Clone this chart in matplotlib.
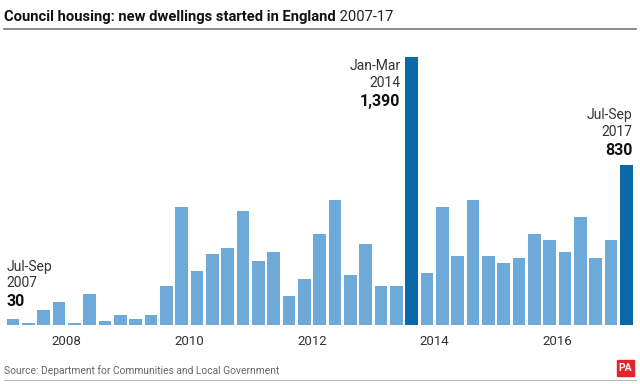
import matplotlib
matplotlib.use("Agg")
import matplotlib.pyplot as plt
from matplotlib.lines import Line2D
from matplotlib.patches import Rectangle

plt.rcParams['font.family'] = ['Liberation Sans Narrow', 'Roboto', 'DejaVu Sans']

# quarterly starts, Jul-Sep 2007 .. Jul-Sep 2017
values = [30, 10, 80, 120, 10, 160, 20, 50, 30, 50,
          200, 610, 280, 370, 400, 590, 330, 380, 150, 240,
          470, 650, 260, 420, 200, 200, 1390, 270, 610, 360,
          650, 360, 320, 350, 470, 440, 380, 560, 350, 440,
          830]
highlight = [26, 40]
year_ticks = [3.5, 11.5, 19.5, 27.5, 35.5]
year_labels = ['2008', '2010', '2012', '2014', '2016']

light = '#6eaad9'
dark = '#0b69a8'
colors = [dark if i in highlight else light for i in range(len(values))]

fig = plt.figure(figsize=(6.4, 3.84), dpi=100)
ax = fig.add_axes([5.5 / 640, 59 / 384, 628.5 / 640, 285 / 384])
ax.bar(range(len(values)), values, width=0.826, color=colors)
ax.set_xlim(-0.5, len(values) - 0.5)
ax.set_ylim(0, 1390 * 285 / 268)
for s in ax.spines.values():
    s.set_visible(False)
ax.set_yticks([])
ax.set_xticks(year_ticks)
ax.set_xticklabels(year_labels, fontsize=9.5, color='#333333')
ax.tick_params(axis='x', length=0, pad=7)

# annotations
def note(i, label, num, ha, xoff, yoff, above=True):
    x = i - 0.413 if ha == 'left' else i + 0.413
    if above:
        t = ax.annotate(num, xy=(x, values[i]), xytext=(0, yoff), textcoords='offset points',
                        ha=ha, va='bottom', fontsize=11.5, fontweight='bold', color='#111111')
        ax.annotate(label, xy=(0 if ha == 'left' else 1, 1), xycoords=t, xytext=(0, 3),
                    textcoords='offset points', ha=ha, va='bottom', fontsize=10,
                    color='#333333', linespacing=1.25)
    else:
        x = i - 0.413
        t = ax.annotate(label, xy=(x, values[i]), xytext=(xoff, yoff), textcoords='offset points',
                        ha=ha, va='top', fontsize=10, color='#333333', linespacing=1.25)
        ax.annotate(num, xy=(1, 0), xycoords=t, xytext=(0, -3), textcoords='offset points',
                    ha=ha, va='top', fontsize=11.5, fontweight='bold', color='#111111')

note(0, 'Jul-Sep\n2007', '30', 'left', 0, 7)
note(26, 'Jan-Mar\n2014', '1,390', 'right', -3.5, -1.5, above=False)
note(40, 'Jul-Sep\n2017', '830', 'right', 0, 5)

# title
t = fig.text(4 / 640, 1 - 21 / 384, 'Council housing: new dwellings started in England',
             fontsize=10.6, fontweight='bold', color='#111111', va='baseline')
ax.annotate(' 2007-17', xy=(1, 0), xycoords=t, xytext=(0, 0), textcoords='offset points',
            ha='left', va='bottom', fontsize=10.6, color='#222222')
fig.add_artist(Line2D([4 / 640, 636 / 640], [1 - 29 / 384] * 2, color='#777777', lw=1.2))

# footer
fig.text(4 / 640, 1 - 374 / 384, 'Source: Department for Communities and Local Government',
         fontsize=7.4, color='#666666', va='baseline')
fig.add_artist(Line2D([4 / 640, 636 / 640], [1 - 380 / 384] * 2, color='#bbbbbb', lw=0.8))
fig.add_artist(Rectangle((617 / 640, 1 - 376 / 384), 17 / 640, 16 / 384,
                         transform=fig.transFigure, color='#e3242b'))
fig.text(625.5 / 640, 1 - 368 / 384, 'PA', fontsize=7.5, fontweight='bold', color='white',
         ha='center', va='center')

fig.savefig('out.png', dpi=100)
